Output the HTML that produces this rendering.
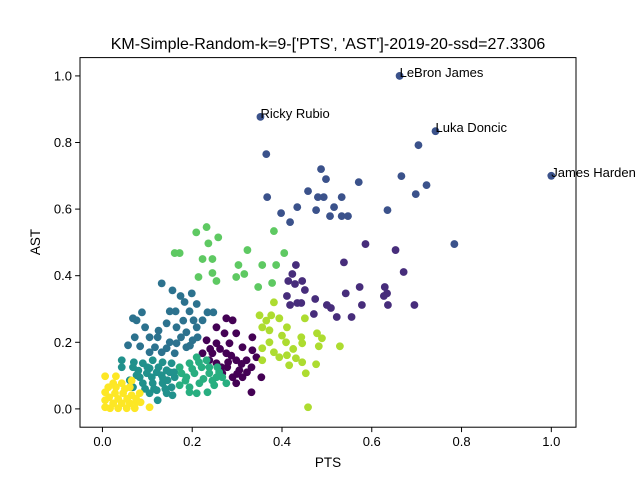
<!DOCTYPE html>
<html><head><meta charset="utf-8"><style>
body{margin:0;background:#fff}
svg text{font-family:"Liberation Sans","DejaVu Sans",sans-serif;fill:#000}
</style></head><body>
<svg id="chart" width="640" height="480" viewBox="0 0 640 480" xmlns="http://www.w3.org/2000/svg">
<rect width="640" height="480" fill="#fff"/>
<text x="328" y="49" font-size="16" text-anchor="middle">KM-Simple-Random-k=9-['PTS', 'AST']-2019-20-ssd=27.3306</text>
<g id="marks"></g>
<g id="axes"></g>
<text x="328" y="467" font-size="13.5" text-anchor="middle">PTS</text>
<text x="0" y="0" font-size="13.5" text-anchor="middle" transform="translate(40,242) rotate(-90)">AST</text>
</svg>
<script>
const colors = ["#440154","#472d7b","#3b528b","#2c728e","#21918c","#28ae80","#5ec962","#addc30","#fde725"];
const c0x=[0.276,0.290,0.254,0.272,0.298,0.334,0.232,0.254,0.283,0.312,0.334,0.223,0.245,0.276,0.298,0.321,0.343,0.254,0.278,0.305,0.332,0.290,0.312,0.354,0.298,0.332,0.238,0.267,0.262,0.287,0.310,0.240,0.265,0.300,0.322,0.280];
const c0y=[0.272,0.266,0.245,0.227,0.227,0.215,0.206,0.197,0.197,0.185,0.176,0.167,0.167,0.167,0.146,0.146,0.155,0.137,0.125,0.116,0.125,0.095,0.095,0.095,0.077,0.050,0.146,0.107,0.180,0.160,0.135,0.180,0.125,0.105,0.110,0.140];
const c1x=[0.586,0.653,0.538,0.671,0.431,0.423,0.445,0.414,0.429,0.451,0.411,0.474,0.418,0.434,0.443,0.500,0.509,0.471,0.522,0.555,0.542,0.573,0.578,0.629,0.634,0.627,0.636,0.695];
const c1y=[0.495,0.477,0.440,0.411,0.432,0.405,0.384,0.384,0.375,0.357,0.339,0.330,0.312,0.318,0.318,0.312,0.303,0.285,0.276,0.276,0.347,0.366,0.312,0.366,0.347,0.339,0.312,0.312];
const c2x=[0.662,0.352,0.742,1.0,0.365,0.487,0.498,0.571,0.666,0.704,0.722,0.698,0.458,0.480,0.493,0.533,0.367,0.434,0.476,0.516,0.398,0.418,0.507,0.533,0.547,0.635,0.784];
const c2y=[1.0,0.877,0.834,0.70,0.765,0.720,0.690,0.681,0.699,0.792,0.672,0.645,0.654,0.636,0.636,0.636,0.636,0.606,0.597,0.606,0.588,0.561,0.579,0.579,0.579,0.597,0.495];
const c3x=[0.132,0.156,0.199,0.174,0.183,0.210,0.088,0.068,0.076,0.150,0.163,0.194,0.234,0.247,0.143,0.165,0.187,0.223,0.203,0.072,0.105,0.123,0.150,0.165,0.201,0.057,0.084,0.117,0.143,0.187,0.212,0.132,0.161,0.105,0.180,0.210,0.125,0.095,0.175,0.195];
const c3y=[0.377,0.356,0.347,0.339,0.321,0.315,0.290,0.272,0.266,0.293,0.293,0.293,0.290,0.290,0.257,0.245,0.230,0.266,0.266,0.215,0.215,0.215,0.200,0.197,0.206,0.191,0.188,0.185,0.182,0.185,0.215,0.170,0.167,0.170,0.265,0.245,0.235,0.245,0.215,0.190];
const c4x=[0.043,0.068,0.090,0.112,0.134,0.154,0.076,0.099,0.121,0.143,0.161,0.090,0.112,0.134,0.154,0.105,0.123,0.143,0.156,0.068,0.061,0.121,0.132,0.105,0.083,0.145,0.043,0.080,0.100,0.125,0.150,0.110,0.135,0.095,0.115,0.140,0.160,0.070];
const c4y=[0.146,0.125,0.137,0.146,0.140,0.137,0.101,0.107,0.110,0.116,0.095,0.077,0.077,0.077,0.065,0.047,0.026,0.047,0.041,0.065,0.086,0.056,0.101,0.122,0.095,0.086,0.125,0.115,0.125,0.125,0.110,0.095,0.090,0.060,0.060,0.060,0.110,0.140];
const c5x=[0.172,0.194,0.210,0.221,0.238,0.254,0.267,0.276,0.234,0.194,0.172,0.216,0.187,0.232,0.238,0.176,0.205,0.194,0.249,0.256,0.210,0.200,0.225,0.245,0.185,0.215,0.260];
const c5y=[0.125,0.137,0.155,0.125,0.107,0.095,0.095,0.077,0.050,0.050,0.071,0.077,0.095,0.146,0.125,0.107,0.107,0.065,0.071,0.125,0.047,0.120,0.090,0.085,0.085,0.140,0.110];
const c6x=[0.209,0.232,0.258,0.236,0.382,0.161,0.172,0.323,0.405,0.223,0.245,0.303,0.356,0.387,0.245,0.254,0.214,0.298,0.316,0.347,0.378];
const c6y=[0.530,0.546,0.515,0.497,0.534,0.468,0.468,0.477,0.468,0.450,0.450,0.432,0.432,0.432,0.408,0.384,0.396,0.396,0.405,0.366,0.378];
const c7x=[0.382,0.350,0.376,0.394,0.451,0.356,0.372,0.411,0.478,0.489,0.443,0.445,0.409,0.372,0.356,0.382,0.411,0.431,0.445,0.416,0.394,0.356,0.482,0.529,0.476,0.453,0.458,0.365,0.425,0.400];
const c7y=[0.320,0.281,0.281,0.272,0.272,0.245,0.236,0.245,0.227,0.212,0.215,0.197,0.200,0.200,0.182,0.170,0.161,0.152,0.140,0.131,0.155,0.146,0.188,0.188,0.134,0.107,0.005,0.265,0.180,0.220];
const c8x=[0.006,0.030,0.006,0.006,0.006,0.024,0.043,0.061,0.083,0.028,0.046,0.065,0.024,0.043,0.061,0.076,0.017,0.035,0.054,0.072,0.105,0.013,0.035,0.055,0.075,0.015,0.050,0.065,0.085,0.030];
const c8y=[0.098,0.098,0.050,0.026,0.005,0.077,0.077,0.065,0.047,0.047,0.047,0.041,0.017,0.017,0.017,0.020,0.002,0.002,0.002,0.002,0.005,0.065,0.030,0.030,0.030,0.035,0.060,0.085,0.020,0.065];
const xs=[c0x,c1x,c2x,c3x,c4x,c5x,c6x,c7x,c8x], ys=[c0y,c1y,c2y,c3y,c4y,c5y,c6y,c7y,c8y];
const annNames=["LeBron James","Ricky Rubio","Luka Doncic","James Harden"];
const annX=[0.662,0.352,0.742,1.0];
const annY=[1.0,0.877,0.834,0.70];
const xTicks=[0,0.2,0.4,0.6,0.8,1.0];
const xTickLabels=["0.0","0.2","0.4","0.6","0.8","1.0"];
const yTicks=[0,0.2,0.4,0.6,0.8,1.0];
const yTickLabels=["0.0","0.2","0.4","0.6","0.8","1.0"];
const L=80,R=576,T=57.6,B=427.2;
const xMin=-0.05,xMax=1.055,yMin=-0.055,yMax=1.055;
const sx=v=>L+(v-xMin)/(xMax-xMin)*(R-L);
const sy=v=>B-(v-yMin)/(yMax-yMin)*(B-T);
const NS="http://www.w3.org/2000/svg";
const marks=document.getElementById('marks');
for(let k=0;k<9;k++){
  for(let i=0;i<xs[k].length;i++){
    const c=document.createElementNS(NS,'circle');
    c.setAttribute('cx',sx(xs[k][i]));c.setAttribute('cy',sy(ys[k][i]));
    c.setAttribute('r',3.9);c.setAttribute('fill',colors[k]);
    
    
    marks.appendChild(c);
  }
}
for(let i=0;i<annNames.length;i++){
  const t=document.createElementNS(NS,'text');
  t.setAttribute('x',sx(annX[i]));t.setAttribute('y',sy(annY[i])+1);
  t.setAttribute('font-size','13');
  t.textContent=annNames[i];
  
  
  marks.appendChild(t);
}
const axes=document.getElementById('axes');
const fr=document.createElementNS(NS,'rect');
fr.setAttribute('x',L);fr.setAttribute('y',T);fr.setAttribute('width',R-L);fr.setAttribute('height',B-T);
fr.setAttribute('fill','none');fr.setAttribute('stroke','#000');fr.setAttribute('stroke-width','1');


axes.appendChild(fr);
xTicks.forEach((v,i)=>{
  const x=sx(v);
  const l=document.createElementNS(NS,'line');
  l.setAttribute('x1',x);l.setAttribute('x2',x);l.setAttribute('y1',B);l.setAttribute('y2',B+4.9);l.setAttribute('stroke','#000');
  
  
  axes.appendChild(l);
  const t=document.createElementNS(NS,'text');
  t.setAttribute('x',x);t.setAttribute('y',B+19);t.setAttribute('font-size','13');t.setAttribute('text-anchor','middle');
  t.textContent=xTickLabels[i];
  
  
  axes.appendChild(t);
});
yTicks.forEach((v,i)=>{
  const y=sy(v);
  const l=document.createElementNS(NS,'line');
  l.setAttribute('x1',L-4.9);l.setAttribute('x2',L);l.setAttribute('y1',y);l.setAttribute('y2',y);l.setAttribute('stroke','#000');
  
  
  axes.appendChild(l);
  const t=document.createElementNS(NS,'text');
  t.setAttribute('x',L-8);t.setAttribute('y',y+4.5);t.setAttribute('font-size','13');t.setAttribute('text-anchor','end');
  t.textContent=yTickLabels[i];
  
  
  axes.appendChild(t);
});
</script>
</body></html>
